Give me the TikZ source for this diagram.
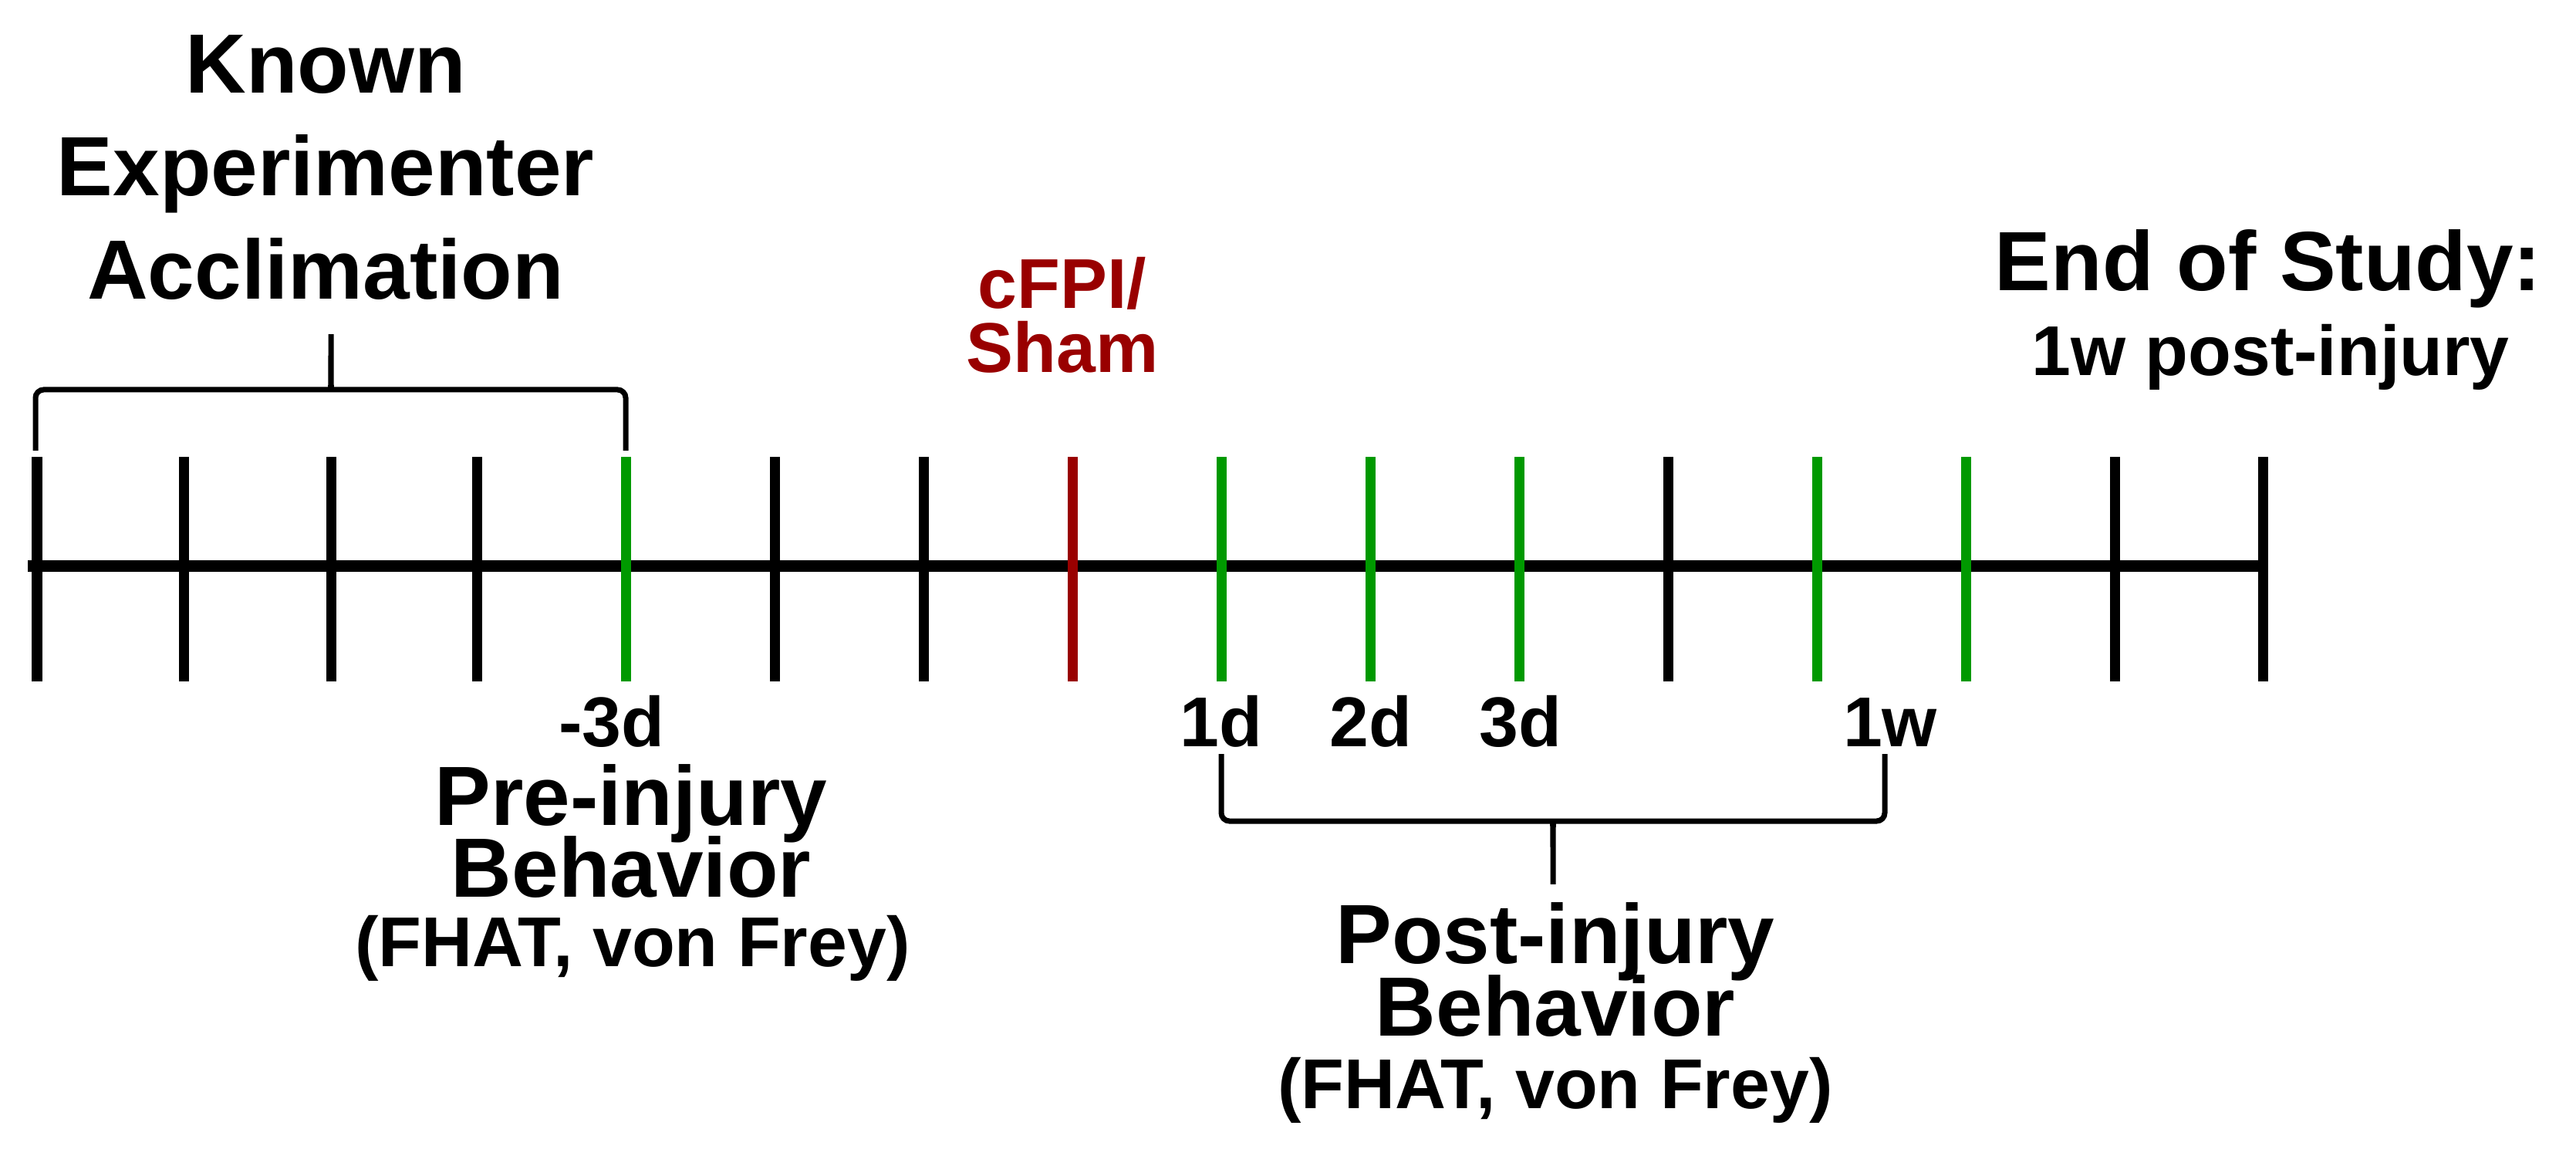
\documentclass[tikz,border=0pt]{standalone}
\usepackage{fontspec}
\setmainfont{Liberation Sans}
\usetikzlibrary{positioning,calc}
\definecolor{TickGreen}{rgb}{0.0000000,0.6000000,0.0000000}
\definecolor{InjuryRed}{rgb}{0.6000000,0.0000000,0.0000000}
\tikzset{
  bigtext/.style={font=\fontsize{31}{37}\selectfont\bfseries, anchor=base, inner sep=0pt},
  smalltext/.style={font=\fontsize{26}{31}\selectfont\bfseries, anchor=base, inner sep=0pt},
  daytick/.style={line width=0.13cm},
  bracket/.style={line width=0.07cm, rounded corners=3pt}
}
\begin{document}
\begin{tikzpicture}
  \useasboundingbox (0, 0) rectangle (33.39, 14.97);
  % axis and ticks
  \draw[line width=0.15cm] (0.36, 7.64) -- (29.33, 7.64);
  \draw[daytick] (0.48, 6.14) -- (0.48, 9.05);
  \draw[daytick] (2.38, 6.14) -- (2.38, 9.05);
  \draw[daytick] (4.29, 6.14) -- (4.29, 9.05);
  \draw[daytick] (6.18, 6.14) -- (6.18, 9.05);
  \draw[daytick, TickGreen] (8.11, 6.14) -- (8.11, 9.05);
  \draw[daytick] (10.04, 6.14) -- (10.04, 9.05);
  \draw[daytick] (11.97, 6.14) -- (11.97, 9.05);
  \draw[daytick, InjuryRed] (13.90, 6.14) -- (13.90, 9.05);
  \draw[daytick, TickGreen] (15.83, 6.14) -- (15.83, 9.05);
  \draw[daytick, TickGreen] (17.76, 6.14) -- (17.76, 9.05);
  \draw[daytick, TickGreen] (19.69, 6.14) -- (19.69, 9.05);
  \draw[daytick] (21.62, 6.14) -- (21.62, 9.05);
  \draw[daytick, TickGreen] (23.55, 6.14) -- (23.55, 9.05);
  \draw[daytick, TickGreen] (25.48, 6.14) -- (25.48, 9.05);
  \draw[daytick] (27.41, 6.14) -- (27.41, 9.05);
  \draw[daytick] (29.33, 6.14) -- (29.33, 9.05);

  % acclimation
  \node[bigtext] (known) at (4.22, 13.76) {Known};
  \node[bigtext] (experimenter) at (4.22, 12.43) {Experimenter};
  \node[bigtext] (acclimation) at (4.22, 11.09) {Acclimation};
  \coordinate (a0) at (0.46, 9.13);
  \coordinate (a1) at (8.11, 9.13);
  \coordinate (atip) at (4.29, 10.70);
  \draw[bracket] (a0) |- ($(atip)+(-0.12,-0.78)$) .. controls ($(atip)+(0,-0.78)$) .. (atip)
    .. controls ($(atip)+(0,-0.78)$) .. ($(atip)+(0.12,-0.78)$) -| (a1);

  % injury and end
  \node[smalltext, InjuryRed] (cfpi) at (13.77, 10.97) {cFPI/};
  \node[smalltext, InjuryRed] (sham) at (13.77, 10.14) {Sham};
  \node[bigtext] (end) at (29.40, 11.20) {End of Study:};
  \node[smalltext] (endweek) at (29.43, 10.10) {1w post-injury};

  % day labels
  \node[smalltext] (dm3) at (7.93, 5.30) {-3d};
  \node[smalltext] (d1) at (15.83, 5.30) {1d};
  \node[smalltext] (d2) at (17.77, 5.30) {2d};
  \node[smalltext] (d3) at (19.71, 5.30) {3d};
  \node[smalltext] (w1) at (24.50, 5.30) {1w};

  % pre-injury behavior
  \node[bigtext] (pre) at (8.18, 4.28) {Pre-injury};
  \node[bigtext] (prebeh) at (8.18, 3.35) {Behavior};
  \node[smalltext] (pretest) at (8.20, 2.45) {(FHAT, von Frey)};

  % post-injury behavior
  \coordinate (p0) at (15.83, 5.20);
  \coordinate (p1) at (24.43, 5.20);
  \coordinate (ptip) at (20.13, 3.45);
  \draw[bracket] (p0) |- ($(ptip)+(-0.12,0.88)$) .. controls ($(ptip)+(0,0.88)$) .. (ptip)
    .. controls ($(ptip)+(0,0.88)$) .. ($(ptip)+(0.12,0.88)$) -| (p1);
  \node[bigtext] (post) at (20.16, 2.49) {Post-injury};
  \node[bigtext] (postbeh) at (20.16, 1.55) {Behavior};
  \node[smalltext] (posttest) at (20.16, 0.61) {(FHAT, von Frey)};
\end{tikzpicture}
\end{document}
